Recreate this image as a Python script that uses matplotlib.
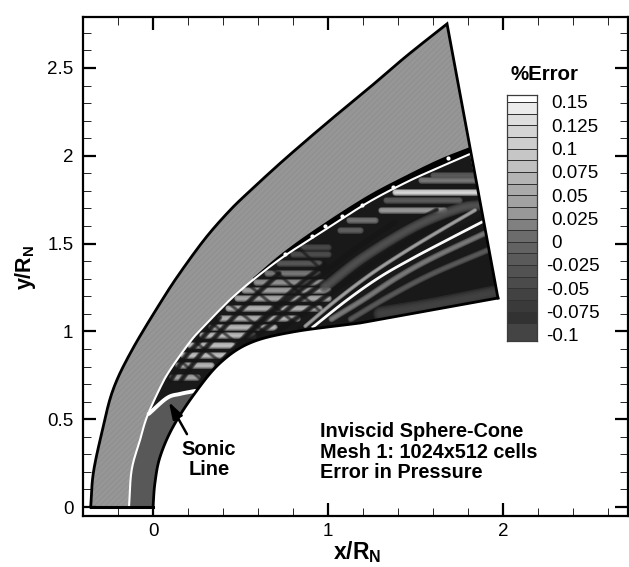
import numpy as np
import matplotlib
matplotlib.use("Agg")
import matplotlib.pyplot as plt
from matplotlib.colors import ListedColormap
from matplotlib.patches import Polygon
from matplotlib.ticker import MultipleLocator

plt.rcParams['font.family'] = ['Liberation Sans', 'DejaVu Sans']
plt.rcParams['mathtext.fontset'] = 'custom'
plt.rcParams['mathtext.bf'] = 'Liberation Sans:bold'
plt.rcParams['mathtext.rm'] = 'Liberation Sans'
plt.rcParams['hatch.linewidth'] = 0.5

# --- data -----------------------------------------------------------------
outer_x = [-0.356, -0.341, -0.293, -0.229, -0.12, 0.059, 0.173, 0.307, 0.44, 0.554, 0.707, 0.821, 0.926, 1.069, 1.257, 1.451, 1.68]
outer_y = [0, 0.194, 0.421, 0.666, 0.894, 1.19, 1.36, 1.54, 1.69, 1.80, 1.94, 2.04, 2.13, 2.25, 2.405, 2.57, 2.751]
shock_x = [-0.137, -0.122, -0.074, -0.034, 0.04, 0.097, 0.211, 0.28, 0.371, 0.457, 0.571, 0.743, 0.954, 1.223, 1.451, 1.64, 1.811]
shock_y = [0, 0.211, 0.382, 0.515, 0.678, 0.78, 0.94, 1.018, 1.112, 1.196, 1.293, 1.424, 1.56, 1.731, 1.851, 1.936, 2.01]
band_x = [0.571, 0.743, 0.954, 1.223, 1.451, 1.64, 1.811]
band_y = [1.305, 1.45, 1.6, 1.771, 1.891, 1.982, 2.05]
body_x = [0, 0.011, 0.04, 0.114, 0.24, 0.383, 0.554, 0.8, 1.183, 1.971]
body_y = [0, 0.137, 0.285, 0.456, 0.649, 0.82, 0.934, 0.997, 1.048, 1.19]
sonic_x = [-0.025, 0.08, 0.154, 0.24]
sonic_y = [0.53, 0.621, 0.644, 0.661]
char_x = [0.914, 1.109, 1.297, 1.486, 1.68, 1.88]
char_y = [1.025, 1.179, 1.31, 1.418, 1.52, 1.623]

# horizontal streaks: y, x start, x end, grey level
streak_y = [0.742, 0.809, 0.866, 0.923, 0.98, 1.025, 1.076, 1.133, 1.19, 1.236, 1.281, 1.333, 1.39, 1.44, 1.48,
            1.577, 1.634, 1.691, 1.748, 1.794, 1.862, 1.89]
streak_a = [0.11, 0.14, 0.17, 0.21, 0.28, 0.33, 0.38, 0.43, 0.48, 0.52, 0.59, 0.65, 0.72, 0.8, 0.85,
            1.07, 1.12, 1.30, 1.33, 1.38, 1.53, 1.6]
streak_b = [0.25, 0.33, 0.41, 0.48, 0.57, 0.69, 0.82, 0.95, 1.0, 1.0, 0.97, 0.94, 0.95, 1.0, 1.0,
            1.18, 1.27, 1.66, 1.75, 1.85, 1.85, 1.85]
streak_g = [170, 190, 200, 200, 195, 190, 185, 185, 175, 165, 150, 125, 90, 80, 75,
            100, 120, 160, 95, 225, 125, 95]

# dark characteristic arcs, first family
dark_arcs = [
    ([0.1, 0.18, 0.28, 0.38], [0.72, 0.85, 0.96, 1.08]),
    ([0.16, 0.24, 0.34, 0.46, 0.58, 0.72], [0.72, 0.83, 0.95, 1.08, 1.2, 1.33]),
    ([0.26, 0.36, 0.46, 0.6, 0.72, 0.84, 0.98], [0.67, 0.79, 0.90, 1.05, 1.16, 1.27, 1.38]),
    ([0.38, 0.5, 0.62, 0.76, 0.9, 1.05, 1.2, 1.38], [0.82, 0.93, 1.05, 1.17, 1.28, 1.39, 1.5, 1.62]),
    ([0.52, 0.66, 0.8, 0.95, 1.1, 1.28, 1.46, 1.62], [0.93, 1.03, 1.15, 1.26, 1.37, 1.49, 1.6, 1.69]),
    ([0.68, 0.84, 1.0, 1.16, 1.34, 1.54, 1.82], [0.98, 1.09, 1.21, 1.32, 1.44, 1.56, 1.7]),
    ([0.84, 1.0, 1.18, 1.36, 1.58, 1.88], [1.01, 1.12, 1.25, 1.37, 1.5, 1.64]),
]
# second family, crossing the first
cross_arcs = [
    ([0.14, 0.3], [0.85, 0.70]),
    ([0.229, 0.44], [0.951, 0.78]),
    ([0.32, 0.58], [1.06, 0.85]),
    ([0.42, 0.72], [1.17, 0.93]),
    ([0.54, 0.88], [1.27, 0.99]),
    ([0.68, 1.05], [1.36, 1.03]),
    ([0.84, 1.22], [1.47, 1.1]),
]
# bright arcs in the aft part of the field: x, y, grey level, width
bright_arcs = [
    ([1.3, 1.6, 1.95], [1.1, 1.15, 1.22], 70, 7),
    ([1.13, 1.35, 1.6, 1.93], [1.07, 1.2, 1.33, 1.47], 95, 3),
    ([1.02, 1.2, 1.4, 1.6, 1.92], [1.07, 1.18, 1.31, 1.42, 1.57], 130, 3),
    ([0.98, 1.2, 1.5, 1.75, 1.88], [1.25, 1.42, 1.6, 1.7, 1.72], 85, 5),
    ([0.87, 1.05, 1.25, 1.45, 1.65, 1.84], [1.03, 1.18, 1.33, 1.46, 1.58, 1.69], 175, 2),
]
blob_x = [0.754, 0.909, 0.983, 1.08, 1.194, 1.371, 1.686]
blob_y = [1.44, 1.545, 1.6, 1.655, 1.72, 1.825, 1.985]

cb_levels = [-0.1064, -0.0875, -0.075, -0.0625, -0.05, -0.0375, -0.025, -0.0125, 0, 0.0125, 0.025,
             0.0375, 0.05, 0.0625, 0.075, 0.0875, 0.1, 0.1125, 0.125, 0.1375, 0.15, 0.1575]
cb_grey = [68, 50, 58, 66, 75, 82, 90, 98, 108, 128, 152, 162, 170, 180, 192, 198, 205, 212, 222, 235, 255]
cb_ticks = ['0.15', '0.125', '0.1', '0.075', '0.05', '0.025', '0', '-0.025', '-0.05', '-0.075', '-0.1']
cb_tick_vals = [0.15, 0.125, 0.1, 0.075, 0.05, 0.025, 0, -0.025, -0.05, -0.075, -0.1]
x_ticks = [0, 1, 2]
y_ticks = [0, 0.5, 1, 1.5, 2, 2.5]
arrow_tip = (0.091, 0.598)
arrow_tail = (0.194, 0.415)


def g(v):
    return str(v / 255)


def smooth(xs, ys, n=12):
    """Round a polyline through its points (Catmull-Rom), for drawing only."""
    p = np.c_[xs, ys].astype(float)
    if len(p) < 3:
        return p[:, 0], p[:, 1]
    q = np.vstack([2 * p[0] - p[1], p, 2 * p[-1] - p[-2]])
    out = []
    t = np.linspace(0, 1, n, endpoint=False)[:, None]
    for i in range(1, len(q) - 2):
        a, b, c, d = q[i - 1], q[i], q[i + 1], q[i + 2]
        out.append(0.5 * (2 * b + (c - a) * t + (2 * a - 5 * b + 4 * c - d) * t ** 2 + (3 * b - a - 3 * c + d) * t ** 3))
    out.append(p[-1:])
    out = np.vstack(out)
    return out[:, 0], out[:, 1]


W, H = 629, 567
fig = plt.figure(figsize=(W / 100, H / 100), dpi=100, facecolor='white')
ax = fig.add_axes([83 / W, 1 - 516 / H, 545 / W, (516 - 16.5) / H])
ax.set_xlim(-0.4, 2.714)
ax.set_ylim(-0.051, 2.793)

ox, oy = smooth(outer_x, outer_y)
sx, sy = smooth(shock_x, shock_y)
bx, by = smooth(body_x[:-1], body_y[:-1])
bx, by = np.r_[bx, body_x[-1]], np.r_[by, body_y[-1]]

# upstream region with rippled texture
ax.add_patch(Polygon(np.c_[np.r_[ox, 1.811, sx[::-1]], np.r_[oy, 2.05, sy[::-1]]],
                     facecolor=g(150), edgecolor=g(140), hatch='//////', lw=0, zorder=1))

# post-shock region
inner = Polygon(np.c_[np.r_[sx, bx[::-1]], np.r_[sy, by[::-1]]], facecolor=g(25), edgecolor='none', zorder=2)
ax.add_patch(inner)


def soft(xs, ys, grey, lw, z=3, strength=0.3):
    """A line with blurred edges: several strokes of falling width."""
    xs, ys = smooth(xs, ys)
    for f in (1.5, 1.2, 0.9, 0.6, 0.3):
        ln, = ax.plot(xs, ys, color=g(grey), lw=lw * f, alpha=strength, zorder=z, solid_capstyle='round')
        ln.set_clip_path(inner)


for yy, a, b, gg in zip(streak_y, streak_a, streak_b, streak_g):
    soft([a, b], [yy, yy], gg, 3.2, z=3, strength=0.45)
for xs, ys in cross_arcs:
    soft(xs, ys, 25, 2.0, z=4, strength=0.22)
for xs, ys in dark_arcs:
    soft(xs, ys, 22, 2.8, z=4, strength=0.4)
for xs, ys, gg, w in bright_arcs:
    soft(xs, ys, gg, w, z=5, strength=0.4)
cx, cy = smooth(char_x, char_y)
ln, = ax.plot(cx, cy, color=g(250), lw=2.0, zorder=6)
ln.set_clip_path(inner)

# nose region below the sonic line
snx, sny = smooth(sonic_x, sonic_y)
nose_x = np.r_[smooth(shock_x[:4], shock_y[:4])[0], snx, smooth(body_x[:5], body_y[:5])[0][::-1]]
nose_y = np.r_[smooth(shock_x[:4], shock_y[:4])[1], sny, smooth(body_x[:5], body_y[:5])[1][::-1]]
ax.add_patch(Polygon(np.c_[nose_x, nose_y], facecolor=g(88), edgecolor='none', zorder=7))

# black band ahead of the shock and shock line
bdx, bdy = smooth(band_x, band_y)
tsx, tsy = smooth(shock_x[10:], shock_y[10:])
ax.fill(np.r_[bdx, tsx[::-1]], np.r_[bdy, tsy[::-1]], color='black', lw=0, zorder=8)
ax.scatter(blob_x, blob_y, s=9, marker='o', color='white', zorder=9, lw=0)
ax.plot(sx, sy, color='white', lw=1.5, zorder=10)
ax.plot(snx, sny, color='white', lw=2.8, zorder=10, solid_capstyle='round')

# outlines
ax.plot(np.r_[ox, body_x[-1]], np.r_[oy, body_y[-1]], color='black', lw=2.0, zorder=11, solid_joinstyle='miter')
ax.plot(bx, by, color='black', lw=2.0, zorder=11, solid_joinstyle='miter')
ax.plot([outer_x[0], 0], [0, 0], color='black', lw=2.2, zorder=11)

ax.annotate('', xy=arrow_tip, xytext=arrow_tail, zorder=12,
            arrowprops=dict(arrowstyle='-|>,head_length=1.0,head_width=0.32', color='black', lw=1.8, shrinkA=0, shrinkB=0))
ax.text(0.32, 0.33, 'Sonic', ha='center', va='center', fontsize=14.5, fontweight='bold')
ax.text(0.32, 0.216, 'Line', ha='center', va='center', fontsize=14.5, fontweight='bold')
ax.text(0.955, 0.43, 'Inviscid Sphere-Cone', ha='left', va='center', fontsize=14.3, fontweight='bold')
ax.text(0.955, 0.31, 'Mesh 1: 1024x512 cells', ha='left', va='center', fontsize=14.3, fontweight='bold')
ax.text(0.955, 0.195, 'Error in Pressure', ha='left', va='center', fontsize=14.3, fontweight='bold')

# axes
ax.set_xticks(x_ticks)
ax.set_yticks(y_ticks)
ax.set_xticklabels([str(v) for v in x_ticks])
ax.set_yticklabels([str(v) for v in y_ticks])
ax.xaxis.set_minor_locator(MultipleLocator(0.2))
ax.yaxis.set_minor_locator(MultipleLocator(0.1))
ax.tick_params(which='major', direction='in', length=9.5, width=1.6, top=True, right=True, labelsize=13.5, pad=7, zorder=13)
ax.tick_params(which='minor', direction='in', length=5.5, width=0.6, top=True, right=True)
ax.tick_params(axis='x', which='major', pad=5)
for s in ax.spines.values():
    s.set_linewidth(1.6)
    s.set_zorder(20)

fig.text(357 / W, 1 - 552 / H, r'$\mathbf{x/R_N}$', ha='center', va='center', fontsize=16.5)
fig.text(25 / W, 1 - 267 / H, r'$\mathbf{y/R_N}$', ha='center', va='center', rotation=90, fontsize=15.5)

# contour legend
cax = fig.add_axes([507 / W, 1 - 341 / H, 30 / W, (341 - 95) / H])
cax.pcolormesh([0, 1], cb_levels, np.arange(len(cb_grey)).reshape(-1, 1) + 0.0,
               cmap=ListedColormap([g(v) for v in cb_grey]), edgecolors=g(50), linewidth=0.7)
cax.set_ylim(cb_levels[0], cb_levels[-1])
cax.set_xlim(0, 1)
cax.set_xticks([])
cax.set_yticks([])
for s in cax.spines.values():
    s.set_linewidth(0.9)
    s.set_color(g(60))
for lab, v in zip(cb_ticks, cb_tick_vals):
    off = 1.3 if lab.startswith('-') else 1.467
    cax.text(off, v - 0.002, lab, transform=cax.get_yaxis_transform(), ha='left', va='center', fontsize=13.5)
fig.text(544.5 / W, 1 - 75 / H, '%Error', ha='center', va='center', fontsize=14.8, fontweight='bold')

fig.savefig('out.png', dpi=100)
